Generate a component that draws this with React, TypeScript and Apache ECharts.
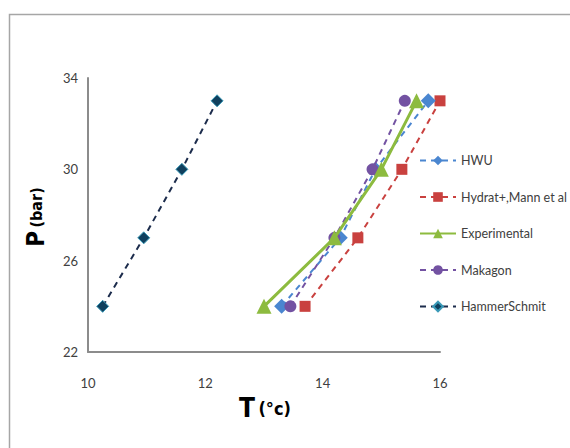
import React, { useEffect, useRef } from "react";
import * as echarts from "echarts";

const pressures = [24, 27, 30, 33];
const hwuT = [13.3, 14.3, 14.9, 15.8];
const hydratT = [13.7, 14.6, 15.35, 16.0];
const experimentalT = [13.0, 14.2, 15.0, 15.6];
const makagonT = [13.45, 14.2, 14.85, 15.4];
const hammerT = [10.25, 10.95, 11.6, 12.2];

const seriesNames = ["HWU", "Hydrat+,Mann et al", "Experimental", "Makagon", "HammerSchmit"];

const pairs = (t: number[]) => t.map((v, i) => [v, pressures[i]]);

export default function App() {
  const ref = useRef<HTMLDivElement>(null);
  useEffect(() => {
    if (!ref.current) return;
    const chart = echarts.init(ref.current, undefined, { renderer: "svg" });
    const font = "'DejaVu Sans Condensed', 'Liberation Sans Narrow', 'Liberation Sans', sans-serif";
    chart.setOption({
      animation: false,
      backgroundColor: "#ffffff",
      grid: { left: 88, top: 78, width: 352, height: 274 },
      xAxis: {
        type: "value",
        min: 10,
        max: 16,
        interval: 2,
        axisLine: { lineStyle: { color: "#8c8c8c", width: 2 } },
        axisTick: { show: false },
        splitLine: { show: false },
        axisLabel: { color: "#404040", fontSize: 13, margin: 24, fontFamily: "Lato, sans-serif" },
      },
      yAxis: {
        type: "value",
        min: 22,
        max: 34,
        interval: 4,
        axisLine: { show: true, lineStyle: { color: "#8c8c8c", width: 2 } },
        axisTick: { show: false },
        splitLine: { show: false },
        axisLabel: { color: "#404040", fontSize: 13, margin: 10, fontFamily: "Lato, sans-serif" },
      },
      legend: {
        orient: "vertical",
        left: 419,
        top: 154,
        padding: 0,
        itemWidth: 36,
        itemHeight: 12,
        itemGap: 23.5,
        textStyle: { color: "#404040", fontSize: 12.5, fontFamily: "Lato, sans-serif" },
        data: seriesNames,
      },
      graphic: [
        {
          type: "rect",
          shape: { x: 9.5, y: 14.5, width: 700, height: 600 },
          style: { fill: "none", stroke: "#a6a6a6", lineWidth: 1.5 },
          silent: true,
          z: -10,
        },
        {
          type: "text",
          x: 36,
          y: 217,
          rotation: Math.PI / 2,
          style: {
            text: "{a|P} {b|(bar)}",
            align: "center",
            verticalAlign: "middle",
            rich: {
              a: { fontSize: 24, fontWeight: "bold", fontFamily: font, fill: "#000" },
              b: { fontSize: 16, fontWeight: "bold", fontFamily: font, fill: "#000" },
            },
          },
        },
        {
          type: "text",
          x: 265,
          y: 408,
          style: {
            text: "{a|T} {b|(°c)}",
            align: "center",
            verticalAlign: "middle",
            rich: {
              a: { fontSize: 26, fontWeight: "bold", fontFamily: font, fill: "#000" },
              b: { fontSize: 18, fontWeight: "bold", fontFamily: font, fill: "#000" },
            },
          },
        },
      ],
      series: [
        {
          name: seriesNames[0],
          type: "line",
          data: pairs(hwuT),
          symbol: "diamond",
          symbolSize: 15,
          itemStyle: { color: "#4a86d0" },
          lineStyle: { color: "#4a86d0", width: 2, type: [6, 5] },
          z: 3,
        },
        {
          name: seriesNames[1],
          type: "line",
          data: pairs(hydratT),
          symbol: "rect",
          symbolSize: 11,
          itemStyle: { color: "#c9413f" },
          lineStyle: { color: "#c9413f", width: 2, type: [6, 5] },
          z: 2,
        },
        {
          name: seriesNames[2],
          type: "line",
          data: pairs(experimentalT),
          symbol: "triangle",
          symbolSize: 15,
          itemStyle: { color: "#8dbb3f" },
          lineStyle: { color: "#8dbb3f", width: 3, type: "solid" },
          z: 5,
        },
        {
          name: seriesNames[3],
          type: "line",
          data: pairs(makagonT),
          symbol: "circle",
          symbolSize: 12,
          itemStyle: { color: "#7352a2" },
          lineStyle: { color: "#7352a2", width: 2, type: [6, 5] },
          z: 4,
        },
        {
          name: seriesNames[4],
          type: "line",
          data: pairs(hammerT),
          symbol: "diamond",
          symbolSize: 12,
          itemStyle: { color: "#10405e", borderColor: "#3a9ab8", borderWidth: 1 },
          lineStyle: { color: "#1c2c4c", width: 2, type: [6, 5] },
          z: 3,
        },
      ],
    });
    return () => chart.dispose();
  }, []);
  return (
    <div
      ref={ref}
      style={{ position: "fixed", left: 0, top: 0, width: 570, height: 448 }}
    />
  );
}
